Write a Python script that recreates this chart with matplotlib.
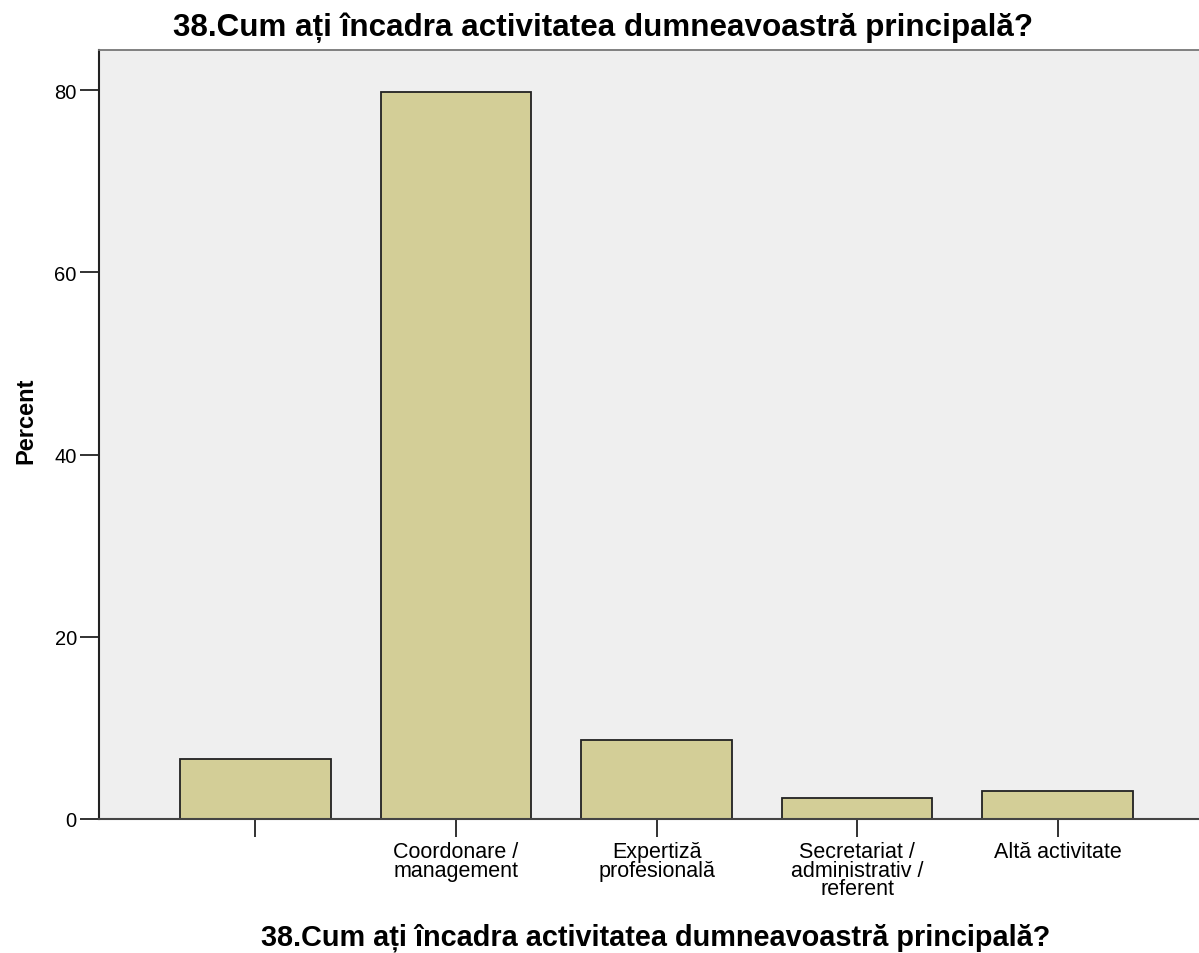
import matplotlib
matplotlib.use("Agg")
import matplotlib.pyplot as plt

# Q38 answers (percent), first category has no label
categories = ['', 'Coordonare /\nmanagement', 'Expertiză\nprofesională',
              'Secretariat /\nadministrativ /\nreferent', 'Altă activitate']
percent = [6.6, 79.8, 8.7, 2.3, 3.1]
yticks = [0, 20, 40, 60, 80]

title = '38.Cum ați încadra activitatea dumneavoastră principală?'

plt.rcParams['font.family'] = ['Liberation Sans', 'DejaVu Sans']

fig = plt.figure(figsize=(11.99, 9.54), dpi=100)
ax = fig.add_axes([0.0826, 0.1405, 0.930, 0.806])
ax.set_facecolor('#efefef')

x = list(range(len(categories)))
ax.bar(x, percent, width=0.75, color='#d3ce97', edgecolor='#222222', linewidth=1.3, zorder=2)

ax.set_xlim(-0.78, 4.78)
ax.set_ylim(0, 84.4)
ax.set_yticks(yticks)
ax.set_xticks(x)
ax.set_xticklabels(categories, fontsize=15.5, linespacing=0.85)
ax.tick_params(axis='y', length=14, width=1.3, labelsize=14.5, pad=2, color='#222222')
ax.tick_params(axis='x', length=13, width=1.3, pad=3, color='#222222')

for side in ['top', 'right']:
    ax.spines[side].set_color('#777777')
    ax.spines[side].set_linewidth(1.3)
ax.spines['left'].set_color('#222222')
ax.spines['left'].set_linewidth(1.5)
ax.spines['bottom'].set_color('#444444')
ax.spines['bottom'].set_linewidth(1.5)
ax.spines['bottom'].set_zorder(3)

fig.text(0.503, 0.9623, title, ha='center', va='baseline', fontsize=22.6, fontweight='bold')
fig.text(0.0217, 0.5587, 'Percent', rotation=90, ha='center', va='center', fontsize=17, fontweight='bold')
fig.text(0.547, 0.0094, title, ha='center', va='baseline', fontsize=20.8, fontweight='bold')

fig.savefig('out.png', dpi=100)
